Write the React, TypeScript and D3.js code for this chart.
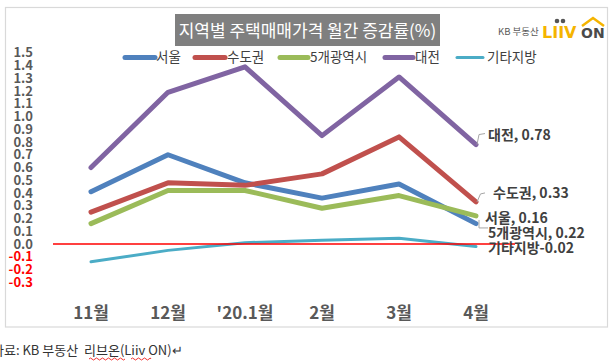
import React from "react";
import * as d3 from "d3";

// months on the x axis
const months = ["11월", "12월", "'20.1월", "2월", "3월", "4월"];

// series (monthly change, %)
const seoul = [0.41, 0.7, 0.48, 0.36, 0.47, 0.16];
const capital = [0.25, 0.48, 0.46, 0.55, 0.84, 0.33];
const metro5 = [0.16, 0.42, 0.42, 0.28, 0.38, 0.22];
const daejeon = [0.6, 1.19, 1.39, 0.85, 1.31, 0.78];
const others = [-0.14, -0.05, 0.01, 0.03, 0.045, -0.02];

const seriesNames = ["서울", "수도권", "5개광역시", "대전", "기타지방"];
const seriesValues = [seoul, capital, metro5, daejeon, others];
const endLabels = ["서울, 0.16", "수도권, 0.33", "5개광역시, 0.22", "대전, 0.78", "기타지방-0.02"];

const yTicks = [1.5, 1.4, 1.3, 1.2, 1.1, 1.0, 0.9, 0.8, 0.7, 0.6, 0.5, 0.4, 0.3, 0.2, 0.1, 0.0, -0.1, -0.2, -0.3];

const colors = ["#4F81BD", "#C0504D", "#9BBB59", "#8064A2", "#4BACC6"];
const widths = [5, 5, 5, 5, 3];

// legend layout: [line x0, line x1, text x]
const legendPos = [
  [125, 155, 156],
  [195, 225, 227],
  [280, 308, 310],
  [385, 413, 415],
  [457, 483, 487],
];

// end label placement (x, dy from last point)
const labelPos = [
  [485, -5.5],
  [493, -9],
  [488, 17],
  [488, -9.5],
  [488, 1.5],
];

const FONT = "'Noto Sans CJK KR', 'Noto Sans', sans-serif";

export default function App() {
  const W = 613, H = 361;
  const x = d3.scalePoint<string>().domain(months).range([91, 476]);
  const y = d3.scaleLinear().domain([-0.3, 1.5]).range([282.25, 52.75]);

  const line = d3
    .line<number>()
    .x((d, i) => x(months[i]) as number)
    .y((d) => y(d));

  const lastX = x(months[months.length - 1]) as number;

  return (
    <div style={{ position: "absolute", left: 0, top: 0 }}>
      <svg width={W} height={H} style={{ display: "block", background: "#fff" }} fontFamily={FONT}>
        <rect x={5.5} y={7.5} width={602} height={319.5} fill="#fff" stroke="#D9D9D9" strokeWidth={1.2} />

        {/* title */}
        <rect x={175} y={14} width={265} height={32} fill="#7F7F7F" />
        <text x={307.5} y={36.5} textAnchor="middle" fill="#fff" fontSize={17}>
          지역별 주택매매가격 월간 증감률(%)
        </text>

        {/* logo */}
        <text x={498} y={35} fill="#595959" fontSize={9.5}>KB 부동산</text>
        <text x={542} y={37.5} fill="#F5B400" fontSize={16} fontWeight="bold" fontFamily="'DejaVu Sans', sans-serif">LIIV</text>
        <circle cx={557} cy={21} r={2.3} fill="#555" />
        <circle cx={563} cy={21} r={2.3} fill="#555" />
        <text x={581} y={37.5} fill="#4a4a4a" fontSize={14} fontWeight="bold" fontFamily="'DejaVu Sans', sans-serif">ON</text>
        <path d="M582,26 L593,18 L604,26" fill="none" stroke="#F5B400" strokeWidth={2.5} />

        {/* y axis ticks */}
        {yTicks.map((t) => (
          <text
            key={t}
            x={33}
            y={y(t)}
            dy="0.36em"
            textAnchor="end"
            fontSize={13}
            fontWeight="bold"
            fill={t < 0 ? "#FF0000" : "#595959"}
          >
            {t.toFixed(1)}
          </text>
        ))}

        {/* x axis labels */}
        {months.map((m) => (
          <text key={m} x={x(m)} y={313} dy="0.36em" textAnchor="middle" fontSize={17} fontWeight="bold" fill="#595959">
            {m}
          </text>
        ))}

        {/* legend */}
        {seriesNames.map((n, i) => (
          <g key={n}>
            <line
              x1={legendPos[i][0]}
              x2={legendPos[i][1]}
              y1={57.5}
              y2={57.5}
              stroke={colors[i]}
              strokeWidth={widths[i]}
              strokeLinecap="round"
            />
            <text x={legendPos[i][2]} y={57.5} dy="0.36em" fontSize={13.5} fill="#404040">
              {n}
            </text>
          </g>
        ))}

        {/* series */}
        {seriesValues.map((vals, i) => (
          <path
            key={seriesNames[i]}
            d={line(vals) as string}
            fill="none"
            stroke={colors[i]}
            strokeWidth={widths[i]}
            strokeLinecap="round"
            strokeLinejoin="round"
          />
        ))}

        {/* zero line */}
        <line x1={53} x2={515} y1={y(0)} y2={y(0)} stroke="#FF0000" strokeWidth={1.3} />

        {/* leader lines */}
        <path d={`M${lastX + 1},${y(daejeon[5])} L${lastX + 3},${y(daejeon[5]) - 10} L${lastX + 9},${y(daejeon[5]) - 11}`} fill="none" stroke="#A6A6A6" strokeWidth={1} />
        <path d={`M${lastX + 1},${y(capital[5])} L${lastX + 4.5},${y(capital[5]) - 8} L${lastX + 9},${y(capital[5]) - 9}`} fill="none" stroke="#A6A6A6" strokeWidth={1} />
        <path d={`M${lastX + 3},${y(metro5[5]) + 4} L${lastX + 3},${y(metro5[5]) + 12} L${lastX + 12},${y(metro5[5]) + 12}`} fill="none" stroke="#A6A6A6" strokeWidth={1} />

        {/* end labels */}
        {endLabels.map((l, i) => (
          <text
            key={l}
            x={labelPos[i][0]}
            y={y(seriesValues[i][5]) + labelPos[i][1]}
            dy="0.36em"
            fontSize={14}
            fontWeight="bold"
            fill="#404040"
          >
            {l}
          </text>
        ))}

        {/* source caption */}
        <text x={-8} y={355} fontSize={13} fill="#333" style={{ whiteSpace: "pre" }}>
          {"자료: KB 부동산  리브온(Liiv ON)↵"}
        </text>
        <path d="M89,359 q1.5,-2 3,0 t3,0 t3,0 t3,0 t3,0 t3,0 t3,0 t3,0 t3,0 t3,0 t3,0 t3,0" fill="none" stroke="#E00" strokeWidth={0.8} />
        <path d="M131,359 q1.5,-2 3,0 t3,0 t3,0 t3,0 t3,0 t3,0 t2,0" fill="none" stroke="#E00" strokeWidth={0.8} />
      </svg>
    </div>
  );
}
